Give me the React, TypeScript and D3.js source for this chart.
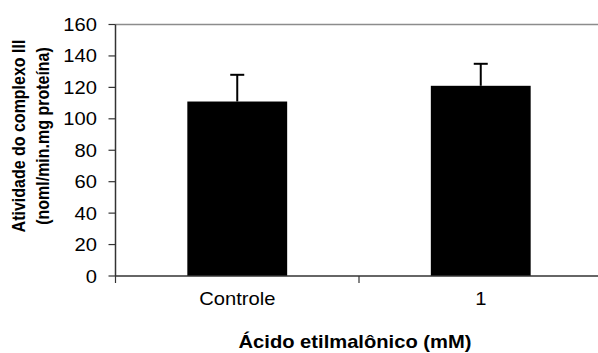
import * as d3 from "d3";

const categories = ["Controle", "1"];
const means = [111, 121];
const errors = [17, 14];
const yTicks = [0, 20, 40, 60, 80, 100, 120, 140, 160];

const W = 598;
const H = 353;
const SX = 1.12; // text looks a bit stretched sideways in the picture
const FONT = "'Liberation Sans', Arial, sans-serif";

export default function App() {
  const left = 115.5;
  const right = 602.5;
  const top = 24.5;
  const bottom = 276;

  const x = d3.scaleBand().domain(categories).range([left, right]).padding(0);
  const y = d3.scaleLinear().domain([0, 160]).range([bottom, top]);
  const barW = x.bandwidth() * 0.41;
  const capW = 14;

  const stretched = (tx: number, ty: number, sx = SX, extra = "") =>
    `translate(${tx},${ty}) scale(${sx},1)${extra}`;

  return (
    <svg
      width={W}
      height={H}
      style={{ position: "absolute", left: 0, top: 0, background: "#fff" }}
      fontFamily={FONT}
    >
      {/* top border */}
      <line x1={left} x2={W} y1={top} y2={top} stroke="#8c8c8c" strokeWidth={1.5} />

      {/* bars */}
      {categories.map((c, i) => {
        const cx = x(c)! + x.bandwidth() / 2;
        return (
          <g key={c}>
            <line
              x1={cx}
              x2={cx}
              y1={y(means[i])}
              y2={y(means[i] + errors[i])}
              stroke="#000"
              strokeWidth={2}
            />
            <line
              x1={cx - capW / 2}
              x2={cx + capW / 2}
              y1={y(means[i] + errors[i])}
              y2={y(means[i] + errors[i])}
              stroke="#000"
              strokeWidth={2}
            />
            <rect
              x={cx - barW / 2}
              y={y(means[i])}
              width={barW}
              height={bottom - y(means[i])}
              fill="#000"
            />
          </g>
        );
      })}

      {/* y axis */}
      <line x1={left} x2={left} y1={top} y2={bottom} stroke="#333" strokeWidth={1.5} />
      {yTicks.map((t) => (
        <g key={t}>
          <line x1={left - 7} x2={left} y1={y(t)} y2={y(t)} stroke="#333" strokeWidth={1.2} />
          <text
            transform={stretched(left - 18.5, y(t) + 6.5)}
            textAnchor="end"
            fontSize={18}
            fill="#000"
          >
            {t}
          </text>
        </g>
      ))}

      {/* x axis */}
      <line x1={left} x2={W} y1={bottom} y2={bottom} stroke="#333" strokeWidth={1.5} />
      {[...categories.map((c) => x(c)!), right].map((v, i) => (
        <line key={i} x1={v} x2={v} y1={bottom} y2={bottom + 7} stroke="#333" strokeWidth={1.2} />
      ))}
      {categories.map((c) => (
        <text
          key={c}
          transform={stretched(x(c)! + x.bandwidth() / 2, 305)}
          textAnchor="middle"
          fontSize={18}
          fill="#000"
        >
          {c}
        </text>
      ))}

      {/* axis titles */}
      <text
        transform={stretched(355, 348)}
        textAnchor="middle"
        fontSize={18}
        fontWeight="bold"
        fill="#000"
      >
        Ácido etilmalônico (mM)
      </text>
      <text
        transform={stretched(25, 136, 1.2, " rotate(-90)")}
        textAnchor="middle"
        fontSize={16}
        fontWeight="bold"
        fill="#000"
      >
        Atividade do complexo III
      </text>
      <text
        transform={stretched(49, 136, 1.2, " rotate(-90)")}
        textAnchor="middle"
        fontSize={16}
        fontWeight="bold"
        fill="#000"
      >
        (noml/min.mg proteína)
      </text>
    </svg>
  );
}
